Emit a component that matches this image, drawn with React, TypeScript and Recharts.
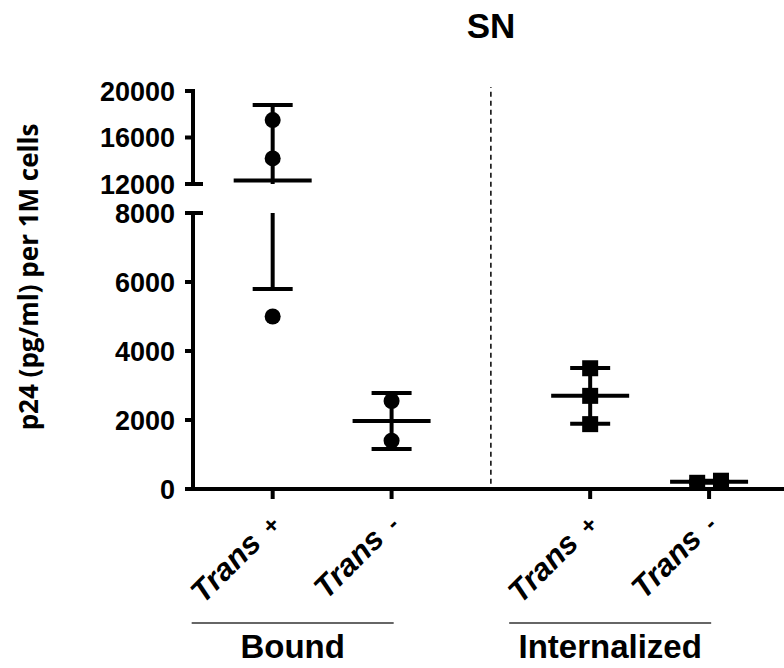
import React from "react";
import { ComposedChart, ReferenceLine, Scatter, XAxis, YAxis } from "recharts";

const W = 784;
const H = 668;
const FONT = "'Liberation Sans', Arial, sans-serif";

const categories = ["Trans +", "Trans -", "Trans +", "Trans -"];
const categoryX = [1, 2, 3.67, 4.67];
const groupNames = ["Bound", "Internalized"];
const separatorX = (categoryX[1] + categoryX[2]) / 2;
const xDomain = [0.33, 5.3];

// replicates, p24 (pg/ml) per 1M cells
const boundPlus = [17500, 14200, 5000];
const boundMinus = [2550, 1400];
const internalizedPlus = [3500, 2700, 1880];
const internalizedMinus = [180, 240];
const internalizedMinusJitter = [-0.1, 0.1];

// mean and SD per category
const means = [12300, 1970, 2700, 210];
const sds = [6500, 810, 810, 30];

const lowerTicks = [0, 2000, 4000, 6000, 8000];
const upperTicks = [12000, 16000, 20000];

const circleData = [
  ...boundPlus.map((y) => ({ x: categoryX[0], y })),
  ...boundMinus.map((y) => ({ x: categoryX[1], y }))
];
const squareData = [
  ...internalizedPlus.map((y) => ({ x: categoryX[2], y })),
  ...internalizedMinus.map((y, i) => ({ x: categoryX[3] + internalizedMinusJitter[i], y }))
];
const meanData = means.map((m, i) => ({ x: categoryX[i], y: m }));
const capData = means.flatMap((m, i) => [
  { x: categoryX[i], y: m + sds[i] },
  { x: categoryX[i], y: m - sds[i] }
]);

const axisStyle = { stroke: "#000", strokeWidth: 4, strokeLinecap: "square" as const };

function Circle({ cx, cy }: any) {
  return <circle cx={cx} cy={cy} r={8} fill="#000" />;
}

function Square({ cx, cy }: any) {
  return <rect x={cx - 8} y={cy - 8} width={16} height={16} fill="#000" />;
}

function MeanLine({ cx, cy }: any) {
  return <line x1={cx - 39} x2={cx + 39} y1={cy} y2={cy} stroke="#000" strokeWidth={4} />;
}

function Cap({ cx, cy }: any) {
  return <line x1={cx - 20} x2={cx + 20} y1={cy} y2={cy} stroke="#000" strokeWidth={4} />;
}

function ValueTick({ x, y, payload, breakValue }: any) {
  const isBreak = payload.value === breakValue;
  return (
    <g>
      <line x1={x - 8} x2={isBreak ? x + 10 : x} y1={y} y2={y} stroke="#000" strokeWidth={4} />
      <text x={x - 18} y={y} dy={9.5} textAnchor="end" fontFamily={FONT} fontWeight="bold" fontSize={27} fill="#000">
        {payload.value}
      </text>
    </g>
  );
}

function CategoryTick({ x, y, index }: any) {
  const [word, sign] = categories[index].split(" ");
  const ax = x + 9;
  const ay = y + 27;
  const firstOfGroup = index % 2 === 0;
  return (
    <g>
      <text
        x={ax}
        y={ay}
        transform={`rotate(-45 ${ax} ${ay})`}
        textAnchor="end"
        fontFamily={FONT}
        fontWeight="bold"
        fontSize={31}
        fill="#000"
      >
        <tspan fontStyle="italic">{word}</tspan>
        <tspan dx={13} fontSize={24}>{sign}</tspan>
      </text>
      {firstOfGroup && (
        <g>
          <line x1={x - 81} x2={x + 121} y1={y + 124} y2={y + 124} stroke="#333" strokeWidth={1.5} />
          <text x={x + 20} y={y + 159} textAnchor="middle" fontFamily={FONT} fontWeight="bold" fontSize={33} fill="#000">
            {groupNames[index / 2]}
          </text>
        </g>
      )}
    </g>
  );
}

function Panel({ domain, ticks, breakValue, upper }: any) {
  return (
    <ComposedChart
      width={W}
      height={H}
      margin={upper ? { top: 91, right: 0, bottom: H - 184, left: 0 } : { top: 213, right: 0, bottom: 0, left: 0 }}
      style={{ position: "absolute", left: 0, top: 0 }}
    >
      <XAxis
        dataKey="x"
        type="number"
        domain={xDomain}
        ticks={categoryX}
        interval={0}
        allowDataOverflow
        hide={upper}
        height={179}
        axisLine={axisStyle}
        tickLine={{ stroke: "#000", strokeWidth: 4 }}
        tickSize={10}
        tickMargin={0}
        tick={<CategoryTick />}
      />
      <YAxis
        dataKey="y"
        type="number"
        domain={domain}
        ticks={ticks}
        interval={0}
        allowDataOverflow
        width={193}
        axisLine={axisStyle}
        tickLine={false}
        tickSize={0}
        tickMargin={0}
        tick={<ValueTick breakValue={breakValue} />}
      />
      {means.map((m, i) => (
        <ReferenceLine
          key={i}
          segment={[
            { x: categoryX[i], y: m - sds[i] },
            { x: categoryX[i], y: m + sds[i] }
          ]}
          stroke="#000"
          strokeWidth={4}
          ifOverflow="hidden"
        />
      ))}
      <Scatter data={capData} dataKey="y" shape={<Cap />} isAnimationActive={false} />
      <Scatter data={meanData} dataKey="y" shape={<MeanLine />} isAnimationActive={false} />
      <Scatter data={circleData} dataKey="y" shape={<Circle />} isAnimationActive={false} />
      <Scatter data={squareData} dataKey="y" shape={<Square />} isAnimationActive={false} />
      {!upper && (
        <ReferenceLine
          segment={[
            { x: separatorX, y: 150 },
            { x: separatorX, y: 11650 }
          ]}
          stroke="#000"
          strokeWidth={1.5}
          strokeDasharray="5 4"
          ifOverflow="visible"
        />
      )}
    </ComposedChart>
  );
}

export default function App() {
  return (
    <div style={{ position: "absolute", left: 0, top: 0, width: W, height: H, background: "#fff" }}>
      <Panel domain={[0, 8000]} ticks={lowerTicks} breakValue={8000} />
      <Panel domain={[12000, 20000]} ticks={upperTicks} breakValue={12000} upper />
      <svg width={W} height={H} style={{ position: "absolute", left: 0, top: 0, pointerEvents: "none" }}>
        <text x={491} y={38} textAnchor="middle" fontFamily={FONT} fontWeight="bold" fontSize={35} fill="#000">
          SN
        </text>
        <text
          x={38}
          y={277}
          transform="rotate(-90 38 277)"
          textAnchor="middle"
          fontFamily="'Open Sans', sans-serif"
          fontWeight="bold"
          fontSize={26}
          fill="#000"
        >
          p24 (pg/ml) per 1M cells
        </text>
      </svg>
    </div>
  );
}
